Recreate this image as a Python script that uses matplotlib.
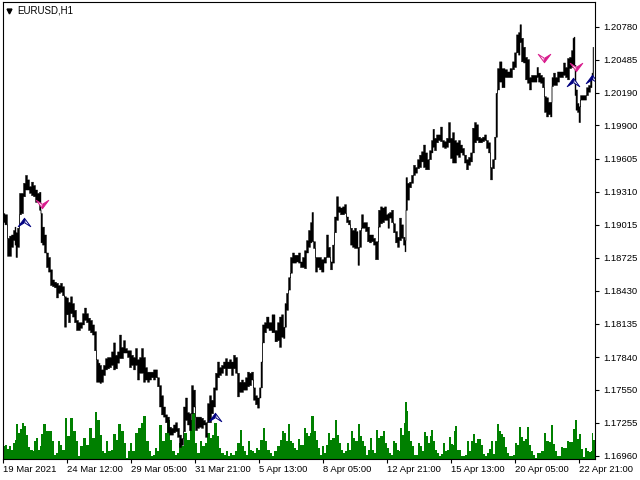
import numpy as np
import matplotlib
matplotlib.use("Agg")
import matplotlib.pyplot as plt
from matplotlib.path import Path

plt.rcParams['font.family'] = ['Liberation Sans', 'DejaVu Sans']

# bar number, high, low of the EURUSD H1 price
price_bar = [3,6,8,10,12,14,15,16,18,20,
    22,24,26,28,30,32,34,36,38,40,
    41,43,45,47,49,51,53,55,57,59,
    61,63,65,67,69,71,73,75,77,79,
    81,83,85,87,89,91,93,95,97,99,
    100,102,104,106,108,110,112,114,116,118,
    120,122,124,126,128,130,132,134,136,138,
    140,142,144,146,148,150,152,154,156,158,
    160,162,164,166,168,170,172,174,176,178,
    180,182,184,186,188,190,192,194,196,198,
    200,202,204,206,208,210,212,214,216,218,
    220,222,224,226,228,230,232,234,236,238,
    240,242,244,246,248,250,252,254,256,258,
    260,261,263,265,267,270,273,276,278,280,
    282,284,285,287,289,291,293,295,297,299,
    301,303,305,307,309,311,312,314,316,318,
    320,322,325,327,329,331,333,335,337,339,
    341,343,345,347,349,351,353,355,357,358,
    360,362,364,366,368,370,372,374,376,377,
    379,381,383,385,387,388,390,392,394,396,
    398,400,402,404,405,406,408,410,412,414,
    416,418,420,422,424,426,428,430,432,433,
    435,437,439,441,443,445,447,449,451,453,
    455,457,459,461,463,465,467,469,471,473,
    475,477,479,481,483,485,487,489,491,493,
    495,496,498,500,503,506,508,511,513,515,
    517,519,520,522,524,526,528,530,532,534,
    536,537,539,541,543,545,547,549,551,552,
    554,556,558,560,562,564,566,568,570,572,
    573,574,575,576,578,579,581,583,585,587,
    589,591,592,593]
price_high = [1.1912,1.1911,1.1890,1.1892,1.1893,1.1897,1.1900,1.1895,1.1899,1.1930,
    1.1930,1.1939,1.1946,1.1942,1.1936,1.1940,1.1937,1.1933,1.1930,1.1931,
    1.1912,1.1900,1.1893,1.1877,1.1873,1.1862,1.1853,1.1851,1.1850,1.1848,
    1.1850,1.1847,1.1838,1.1837,1.1833,1.1838,1.1832,1.1826,1.1817,1.1815,
    1.1815,1.1823,1.1828,1.1823,1.1819,1.1817,1.1813,1.1807,1.1782,1.1779,
    1.1777,1.1773,1.1777,1.1783,1.1784,1.1784,1.1789,1.1797,1.1786,1.1789,
    1.1804,1.1793,1.1799,1.1792,1.1790,1.1790,1.1786,1.1784,1.1792,1.1782,
    1.1784,1.1792,1.1784,1.1775,1.1771,1.1771,1.1771,1.1773,1.1773,1.1766,
    1.1759,1.1750,1.1740,1.1733,1.1731,1.1722,1.1721,1.1724,1.1726,1.1721,
    1.1715,1.1712,1.1740,1.1748,1.1735,1.1734,1.1759,1.1755,1.1731,1.1731,
    1.1731,1.1730,1.1728,1.1726,1.1743,1.1750,1.1746,1.1757,1.1770,1.1780,
    1.1775,1.1777,1.1780,1.1783,1.1780,1.1782,1.1780,1.1786,1.1784,1.1770,
    1.1762,1.1764,1.1762,1.1766,1.1771,1.1770,1.1771,1.1757,1.1750,1.1748,
    1.1757,1.1780,1.1813,1.1815,1.1820,1.1815,1.1822,1.1808,1.1815,1.1820,
    1.1822,1.1811,1.1832,1.1841,1.1855,1.1873,1.1877,1.1875,1.1875,1.1877,
    1.1869,1.1873,1.1879,1.1888,1.1897,1.1904,1.1913,1.1887,1.1873,1.1873,
    1.1873,1.1871,1.1873,1.1893,1.1882,1.1869,1.1884,1.1909,1.1927,1.1918,
    1.1917,1.1918,1.1920,1.1909,1.1906,1.1899,1.1897,1.1899,1.1896,1.1882,
    1.1897,1.1911,1.1904,1.1904,1.1900,1.1893,1.1893,1.1890,1.1887,1.1887,
    1.1915,1.1918,1.1917,1.1918,1.1911,1.1912,1.1913,1.1915,1.1903,1.1896,
    1.1891,1.1908,1.1902,1.1891,1.1888,1.1944,1.1939,1.1940,1.1946,1.1955,
    1.1953,1.1960,1.1964,1.1967,1.1973,1.1966,1.1960,1.1968,1.1977,1.1987,
    1.1979,1.1982,1.1982,1.1989,1.1977,1.1976,1.1979,1.1993,1.1979,1.1984,
    1.1977,1.1975,1.1977,1.1973,1.1970,1.1964,1.1960,1.1962,1.1966,1.1988,
    1.1993,1.1991,1.1980,1.1979,1.1980,1.1982,1.1977,1.1975,1.1953,1.1960,
    1.1980,1.2019,1.2041,1.2047,1.2041,1.2040,1.2038,1.2041,1.2047,1.2055,
    1.2071,1.2073,1.2080,1.2068,1.2060,1.2051,1.2049,1.2033,1.2035,1.2035,
    1.2035,1.2042,1.2037,1.2035,1.2033,1.2016,1.2015,1.2011,1.2011,1.2033,
    1.2037,1.2033,1.2038,1.2038,1.2038,1.2046,1.2042,1.2050,1.2051,1.2057,
    1.2068,1.2069,1.2044,1.2022,1.2010,1.2007,1.2017,1.2017,1.2017,1.2024,
    1.2026,1.2031,1.2037,1.2060]
price_low = [1.1904,1.1902,1.1874,1.1874,1.1882,1.1888,1.1884,1.1873,1.1882,1.1911,
    1.1912,1.1927,1.1933,1.1933,1.1930,1.1928,1.1927,1.1922,1.1922,1.1915,
    1.1886,1.1884,1.1877,1.1864,1.1860,1.1848,1.1847,1.1846,1.1837,1.1841,
    1.1842,1.1839,1.1811,1.1822,1.1815,1.1823,1.1820,1.1815,1.1808,1.1808,
    1.1810,1.1813,1.1817,1.1815,1.1808,1.1806,1.1804,1.1790,1.1762,1.1762,
    1.1761,1.1762,1.1768,1.1773,1.1774,1.1775,1.1777,1.1773,1.1774,1.1779,
    1.1783,1.1783,1.1788,1.1788,1.1784,1.1775,1.1777,1.1773,1.1777,1.1764,
    1.1770,1.1770,1.1762,1.1764,1.1762,1.1764,1.1766,1.1764,1.1766,1.1758,
    1.1740,1.1733,1.1731,1.1726,1.1717,1.1715,1.1715,1.1717,1.1718,1.1713,
    1.1704,1.1706,1.1718,1.1728,1.1724,1.1719,1.1734,1.1740,1.1719,1.1721,
    1.1722,1.1721,1.1724,1.1713,1.1726,1.1726,1.1734,1.1740,1.1755,1.1766,
    1.1768,1.1770,1.1774,1.1768,1.1774,1.1774,1.1768,1.1774,1.1770,1.1749,
    1.1753,1.1753,1.1755,1.1755,1.1758,1.1759,1.1764,1.1746,1.1742,1.1739,
    1.1748,1.1757,1.1797,1.1806,1.1810,1.1808,1.1806,1.1798,1.1799,1.1793,
    1.1802,1.1801,1.1811,1.1826,1.1844,1.1859,1.1868,1.1868,1.1869,1.1868,
    1.1864,1.1864,1.1863,1.1877,1.1882,1.1886,1.1887,1.1881,1.1860,1.1864,
    1.1862,1.1860,1.1868,1.1873,1.1873,1.1862,1.1868,1.1895,1.1906,1.1913,
    1.1911,1.1911,1.1912,1.1904,1.1902,1.1884,1.1882,1.1881,1.1881,1.1866,
    1.1882,1.1899,1.1899,1.1896,1.1887,1.1886,1.1887,1.1884,1.1871,1.1871,
    1.1900,1.1903,1.1904,1.1906,1.1906,1.1899,1.1908,1.1904,1.1895,1.1886,
    1.1882,1.1888,1.1890,1.1884,1.1878,1.1915,1.1924,1.1935,1.1939,1.1946,
    1.1948,1.1952,1.1953,1.1958,1.1953,1.1951,1.1951,1.1960,1.1966,1.1971,
    1.1968,1.1975,1.1977,1.1976,1.1971,1.1970,1.1971,1.1975,1.1961,1.1957,
    1.1957,1.1964,1.1962,1.1966,1.1964,1.1957,1.1951,1.1955,1.1958,1.1966,
    1.1975,1.1977,1.1975,1.1975,1.1976,1.1977,1.1970,1.1966,1.1942,1.1952,
    1.1960,1.1980,1.2022,1.2029,1.2024,1.2033,1.2033,1.2033,1.2040,1.2042,
    1.2055,1.2053,1.2064,1.2047,1.2046,1.2031,1.2028,1.2022,1.2029,1.2029,
    1.2029,1.2033,1.2029,1.2028,1.2024,1.2002,1.1998,1.2000,1.1998,1.2025,
    1.2026,1.2026,1.2029,1.2033,1.2033,1.2035,1.2033,1.2031,1.2041,1.2042,
    1.2042,1.2042,1.2017,1.2004,1.2002,1.1993,1.2013,1.2013,1.2013,1.2017,
    1.2020,1.2024,1.2031,1.2031]

# tick volume, arbitrary units
volume_bar = [3,5,7,9,11,13,15,16,18,20,22,24,26,28,30,33,34,36,38,40,
    41,43,46,49,52,54,56,58,60,62,65,67,70,73,76,78,80,83,86,89,
    92,95,97,100,102,104,106,108,111,113,116,118,121,124,126,128,130,132,135,138,
    141,143,146,149,151,153,155,157,159,162,165,167,170,172,175,177,179,182,184,187,
    190,192,195,197,200,202,205,207,210,212,214,217,219,221,224,226,228,230,232,235,
    237,240,242,244,246,248,250,252,254,256,258,260,263,265,267,270,272,274,277,280,
    282,284,286,288,290,292,294,296,298,300,302,304,306,308,310,311,314,316,318,320,
    322,324,326,328,330,332,335,337,339,341,343,345,347,349,351,353,355,358,360,362,
    364,366,368,370,372,374,376,378,380,383,385,387,389,391,393,395,397,399,400,402,
    404,405,407,408,410,412,414,416,418,420,422,424,426,428,430,431,433,435,437,439,
    441,443,445,447,449,451,453,454,455,457,459,461,463,465,467,469,471,473,475,477,
    479,481,483,485,487,489,491,493,495,497,499,501,503,505,507,509,511,513,515,517,
    519,521,523,525,527,529,531,533,535,537,539,541,544,546,549,551,553,555,557,559,
    561,563,565,567,569,571,573,575,577,579,581,583,585,587,589,591,592,593]
volume = [13,14,10,13,9,16,19,35,26,30,36,33,24,12,9,8,18,21,9,13,
    25,35,28,28,18,4,6,18,14,9,41,23,41,28,18,3,13,21,14,31,
    21,47,39,24,8,6,18,8,9,25,19,35,28,16,1,8,16,8,26,31,
    36,43,18,8,3,4,11,8,34,18,26,39,19,8,4,6,16,13,26,19,
    39,46,16,6,18,13,16,26,21,24,36,23,11,6,4,8,3,6,4,8,
    16,29,13,8,4,18,9,8,6,11,9,19,31,18,9,6,3,8,13,19,
    28,26,18,35,18,16,11,9,20,14,14,31,26,23,26,43,28,19,11,4,
    13,6,14,26,19,21,39,24,16,9,6,8,16,9,28,21,18,35,23,18,
    13,4,9,21,9,6,29,21,23,28,16,11,6,4,18,16,9,8,31,24,
    36,57,48,28,18,13,4,4,16,13,8,27,23,16,23,29,18,9,6,3,
    5,16,8,9,22,15,14,28,33,9,9,3,3,4,18,8,18,25,16,20,
    20,14,5,3,6,10,18,5,18,35,28,25,22,12,6,3,3,4,16,14,
    32,22,18,20,32,14,8,4,1,6,6,8,26,18,17,34,15,8,3,3,
    12,11,11,18,17,17,30,39,20,25,10,2,11,8,7,8,26,19]

sell_bar = [42, 544, 576]
sell_price = [1.1920, 1.2050, 1.2042]
buy_bar = [24, 215, 573, 592]
buy_price = [1.1904, 1.1731, 1.2029, 1.2031]

tick_bars = [3, 67, 131, 195, 259, 323, 387, 451, 515, 579]
tick_times = ['19 Mar 2021', '24 Mar 12:00', '29 Mar 05:00', '31 Mar 21:00', '5 Apr 13:00',
              '8 Apr 05:00', '12 Apr 21:00', '15 Apr 13:00', '20 Apr 05:00', '22 Apr 21:00']
tick_prices = [1.20780, 1.20485, 1.20190, 1.19900, 1.19605, 1.19310, 1.19015,
               1.18725, 1.18430, 1.18135, 1.17840, 1.17550, 1.17255, 1.16960]

fig = plt.figure(figsize=(6.4, 4.8), dpi=100)
ax = fig.add_axes([2.5 / 640, 21 / 480, 592 / 640, 457 / 480])
vol_ax = ax.twinx()
ax.set_zorder(2)
vol_ax.set_zorder(1)
ax.patch.set_visible(False)

# volume sits under the price, each bar runs up to the next one
widths = np.diff(volume_bar + [595])
vol_ax.bar(volume_bar, volume, width=widths, align='edge', color='#008000', linewidth=0, antialiased=False)
vol_ax.set_ylim(0, 457)
vol_ax.axis('off')

ax.fill_between(price_bar, price_low, price_high, step='mid', color='black', linewidth=0.3, antialiased=False)

# half filled arrows, as the terminal draws them
sell_fill = Path([(0, -4), (6, 4), (0.5, 0.5), (0, -4)], closed=True)
sell_line = Path([(0, -4), (-6, 4), (-0.5, 0.5), (0, -4)], closed=True)
buy_fill = Path([(0, 4), (-6, -4), (-0.5, -0.5), (0, 4)], closed=True)
buy_line = Path([(0, 4), (6, -4), (0.5, -0.5), (0, 4)], closed=True)
ax.plot(sell_bar, sell_price, ls='', marker=sell_line, ms=9, mfc='white', mec='#d81b8c', mew=0.7)
ax.plot(sell_bar, sell_price, ls='', marker=sell_fill, ms=9, mfc='#d81b8c', mec='#d81b8c', mew=0.7)
ax.plot(buy_bar, buy_price, ls='', marker=buy_line, ms=9, mfc='white', mec='#000080', mew=0.7)
ax.plot(buy_bar, buy_price, ls='', marker=buy_fill, ms=9, mfc='#000080', mec='#000080', mew=0.7)

ax.set_xlim(2.5, 594.5)
ax.set_ylim(1.16933, 1.20998)
ax.set_xticks(tick_bars)
ax.set_xticklabels(tick_times, ha='left')
ax.yaxis.tick_right()
ax.set_yticks(tick_prices)
ax.set_yticklabels(['%.5f' % p for p in tick_prices])
ax.tick_params(axis='both', length=3, width=0.8, labelsize=6.8, pad=2, color='black')
ax.tick_params(axis='x', pad=1)
ax.tick_params(axis='y', pad=3)
for s in ax.spines.values():
    s.set_linewidth(0.8)

ax.plot([0.0105], [0.981], ls='', marker='v', ms=3.5, color='black', transform=ax.transAxes, clip_on=False)
ax.text(0.0245, 0.982, 'EURUSD,H1', transform=ax.transAxes, fontsize=7, va='center', ha='left')

fig.savefig('out.png', dpi=100)
